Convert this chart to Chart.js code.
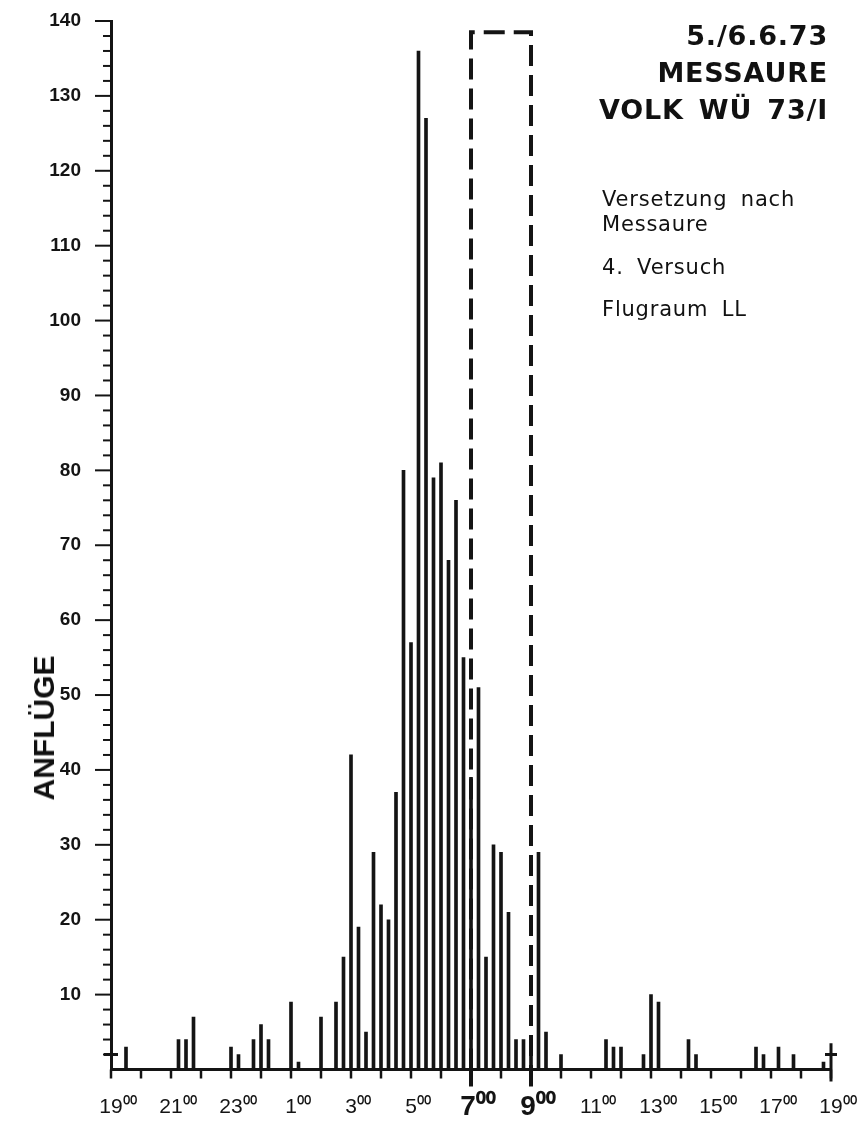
<!DOCTYPE html>
<html lang="de">
<head>
<meta charset="utf-8">
<title>Anflüge – Messaure 5./6.6.73</title>
<script src="https://cdn.jsdelivr.net/npm/chart.js@4.4.1/dist/chart.umd.min.js"></script>
<style>
  html, body { margin: 0; padding: 0; background: #fff; }
  #wrap { position: relative; width: 862px; height: 1125px; overflow: hidden; }
  #chart { position: absolute; left: 0; top: 0; }
  .note { position: absolute; color: #111; font-family: "DejaVu Sans", sans-serif; white-space: nowrap; }
  .head { right: 34px; top: 17px; text-align: right; font-weight: bold; font-size: 27px; line-height: 37px;
          letter-spacing: 0.8px; word-spacing: 5px; }
  .sub { left: 602px; font-size: 21px; line-height: 24px; letter-spacing: 0.8px; word-spacing: 6px; }
  #ytitle { position: absolute; left: 44px; top: 728px; transform: translate(-50%, -50%) rotate(-90deg);
            font: bold 30px "Liberation Sans", sans-serif; color: #111; white-space: nowrap; }
</style>
</head>
<body>
<div id="wrap">
  <canvas id="chart" width="862" height="1125"></canvas>
  <div class="note head">5./6.6.73<br>MESSAURE<br>VOLK WÜ 73/I</div>
  <div class="note sub" style="top:187px">Versetzung nach</div>
  <div class="note sub" style="top:212px">Messaure</div>
  <div class="note sub" style="top:255px">4. Versuch</div>
  <div class="note sub" style="top:297px">Flugraum LL</div>
  <div id="ytitle">ANFLÜGE</div>
</div>

<script>
// ============================================
//  Data
// ============================================
const startHour = 19;   // x axis runs 19:00 -> 19:00 next day

// clock time of each 15-min count
const slotTimes = ['19:30','21:15','21:30','21:45','23:00','23:15','23:45','0:00','0:15','1:00',
  '1:15','2:00','2:30','2:45','3:00','3:15','3:30','3:45','4:00','4:15',
  '4:30','4:45','5:00','5:15','5:30','5:45','6:00','6:15','6:30','6:45',
  '7:00','7:15','7:30','7:45','8:00','8:15','8:30','8:45','9:00','9:15',
  '9:30','10:00','11:30','11:45','12:00','12:45','13:00','13:15','14:15','14:30',
  '16:30','16:45','17:15','17:45','18:45'];

const anfluege = [3,4,4,7,3,2,4,6,4,9,
  1,7,9,15,42,19,5,29,22,20,
  37,80,57,136,127,79,81,68,76,55,
  39,51,15,30,29,21,4,4,3,29,
  5,2,4,3,3,2,10,9,4,2,
  3,2,3,2,1];

const hourLabels = ['19','21','23','1','3','5','7','9','11','13','15','17','19'];
const boldLabels = ['7','9'];

// dashed window 7:00 - 9:00
const boxTimes = ['7:00','9:00'];
const boxTop = 138.5;

const yMax = 140;
const INK = '#141414';

// ============================================
//  Chart
// ============================================
function toHours(t) {
  const [h, m] = t.split(':').map(Number);
  return ((h - startHour + 24) % 24) + m / 60;
}

function labelFor(v) {
  if (v % 2 !== 0) return '';
  return hourLabels[v / 2] + '\u2070\u2070';
}

function isBoldHour(v) {
  return v % 2 === 0 && boldLabels.includes(hourLabels[v / 2]);
}

function noPad(s) {
  s.paddingTop = 0; s.paddingBottom = 0; s.paddingLeft = 0; s.paddingRight = 0;
}

const axisMarks = {
  id: 'axisMarks',
  afterDraw(chart) {
    const { ctx, scales: { x, y } } = chart;
    const base = y.getPixelForValue(0);
    const left = x.getPixelForValue(0);
    const right = x.getPixelForValue(24);
    ctx.save();
    ctx.strokeStyle = INK;
    ctx.lineCap = 'butt';

    // hour ticks below the time axis
    for (let h = 0; h <= 24; h++) {
      const px = x.getPixelForValue(h);
      const strong = isBoldHour(h);
      ctx.lineWidth = strong ? 4 : 2.5;
      ctx.beginPath();
      ctx.moveTo(px, base);
      ctx.lineTo(px, base + (strong ? 17 : 9));
      ctx.stroke();
    }

    // count ticks, every 2 with long ones every 10
    ctx.lineWidth = 2;
    for (let v = 2; v <= yMax; v += 2) {
      const py = y.getPixelForValue(v);
      ctx.beginPath();
      ctx.moveTo(left, py);
      ctx.lineTo(left - (v % 10 === 0 ? 16 : 8), py);
      ctx.stroke();
    }

    // small crosses at both ends of the axis
    const py = y.getPixelForValue(2);
    ctx.lineWidth = 3;
    ctx.beginPath();
    ctx.moveTo(left - 7, py); ctx.lineTo(left + 7, py);
    ctx.moveTo(right - 6, py); ctx.lineTo(right + 6, py);
    ctx.moveTo(right, y.getPixelForValue(3.5)); ctx.lineTo(right, base + 12);
    ctx.stroke();
    ctx.restore();
  }
};

function buildChart() {
  const ctx = document.getElementById('chart');
  const bars = slotTimes.map((t, i) => ({ x: toHours(t), y: anfluege[i] }));
  const b0 = toHours(boxTimes[0]), b1 = toHours(boxTimes[1]);
  const box = [{ x: b0, y: 0 }, { x: b0, y: boxTop }, { x: b1, y: boxTop }, { x: b1, y: 0 }];

  new Chart(ctx, {
    type: 'bar',
    data: {
      datasets: [
        { type: 'bar', data: bars, backgroundColor: INK, barThickness: 3, order: 2 },
        { type: 'line', data: box, borderColor: INK, borderWidth: 4, borderDash: [21, 9],
          pointRadius: 0, fill: false, tension: 0, order: 1 }
      ]
    },
    options: {
      responsive: false,
      animation: false,
      events: [],
      layout: { padding: { top: 21, right: 31, left: 0, bottom: 0 } },
      plugins: { legend: { display: false }, tooltip: { enabled: false } },
      scales: {
        x: {
          type: 'linear', min: 0, max: 24, offset: false,
          afterFit: s => { s.height = 55.5; noPad(s); },
          border: { display: true, color: INK, width: 3 },
          grid: { display: true, drawOnChartArea: false, drawTicks: false, offset: false },
          ticks: {
            stepSize: 1, autoSkip: false, maxRotation: 0, padding: 25, labelOffset: 7, color: INK,
            callback: v => labelFor(v),
            font: c => isBoldHour(c.tick ? c.tick.value : 0)
              ? { family: 'Liberation Sans', size: 28, weight: 'bold', lineHeight: 0.9 }
              : { family: 'Liberation Sans', size: 21, weight: 'normal', lineHeight: 1.2 }
          }
        },
        y: {
          type: 'linear', min: 0, max: yMax,
          afterFit: s => { s.width = 111; noPad(s); },
          border: { display: true, color: INK, width: 3 },
          grid: { display: true, drawOnChartArea: false, drawTicks: false },
          ticks: {
            stepSize: 2, autoSkip: false, padding: 30, color: INK,
            font: { family: 'Liberation Sans', size: 19, weight: 'bold' },
            callback: v => (v > 0 && v % 10 === 0) ? String(v) : ''
          }
        }
      }
    },
    plugins: [axisMarks]
  });
}

document.addEventListener('DOMContentLoaded', buildChart);
</script>
</body>
</html>
